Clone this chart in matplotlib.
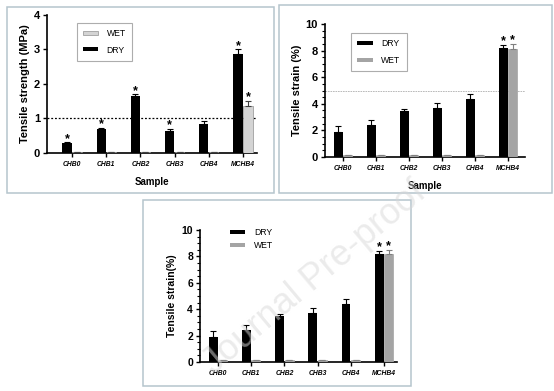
import matplotlib
matplotlib.use("Agg")
import matplotlib.pyplot as plt
from matplotlib.patches import Rectangle, Patch
import numpy as np

plt.rcParams['font.family'] = ['Liberation Sans', 'DejaVu Sans']

W, H = 554, 391

samples = ['CHB0', 'CHB1', 'CHB2', 'CHB3', 'CHB4', 'MCHB4']

# tensile strength (MPa)
strength_dry = [0.28, 0.69, 1.65, 0.63, 0.83, 2.86]
strength_dry_err = [0.03, 0.04, 0.05, 0.07, 0.10, 0.14]
strength_wet = [0.03, 0.03, 0.03, 0.03, 0.03, 1.36]
strength_wet_err = [0, 0, 0, 0, 0, 0.15]
strength_dry_star = [1, 1, 1, 1, 0, 1]
strength_wet_star = [0, 0, 0, 0, 0, 1]

# tensile strain (%)
strain_dry = [1.9, 2.43, 3.46, 3.68, 4.36, 8.2]
strain_dry_err = [0.46, 0.38, 0.15, 0.38, 0.41, 0.2]
strain_wet = [0.12, 0.12, 0.12, 0.12, 0.12, 8.15]
strain_wet_err = [0, 0, 0, 0, 0, 0.35]
strain_dry_star = [0, 0, 0, 0, 0, 1]
strain_wet_star = [0, 0, 0, 0, 0, 1]

fig = plt.figure(figsize=(W / 100, H / 100), dpi=100)


def px_axes(left, top, right, bottom):
    return fig.add_axes([left / W, 1 - bottom / H, (right - left) / W, (bottom - top) / H])


def panel_box(x0, y0, x1, y1):
    fig.add_artist(Rectangle((x0 / W, 1 - y1 / H), (x1 - x0) / W, (y1 - y0) / H,
                             transform=fig.transFigure, fill=False,
                             edgecolor='#b5c5cd', lw=1.1))


def draw_bars(ax, dry, dry_err, wet, wet_err, dry_star, wet_star,
              wet_color, wet_edge, wet_err_color, star_pad):
    x = np.arange(len(samples))
    bw = 0.27
    off = 0.145
    ax.bar(x - off, dry, bw, color='black', zorder=3)
    ax.bar(x + off, wet, bw, color=wet_color, edgecolor=wet_edge, lw=0.5, zorder=3)
    ax.errorbar(x - off, dry, yerr=[np.zeros(len(dry)), dry_err], fmt='none',
                ecolor='black', elinewidth=0.8, capsize=2, capthick=0.8, zorder=4)
    ax.errorbar(x + off, wet, yerr=[np.zeros(len(wet)), wet_err], fmt='none',
                ecolor=wet_err_color, elinewidth=0.8, capsize=2, capthick=0.8, zorder=4)
    for i in range(len(samples)):
        if dry_star[i]:
            ax.text(x[i] - off, dry[i] + dry_err[i] + star_pad, '*', ha='center', va='center',
                    fontsize=9, fontweight='bold')
        if wet_star[i]:
            ax.text(x[i] + off, wet[i] + wet_err[i] + star_pad, '*', ha='center', va='center',
                    fontsize=9, fontweight='bold')
    ax.set_xticks(x)
    ax.set_xticklabels(samples, fontsize=4.9, fontweight='bold', fontstyle='italic')
    for s in ['top', 'right']:
        ax.spines[s].set_visible(False)
    for s in ['left', 'bottom']:
        ax.spines[s].set_linewidth(1.2)
    ax.tick_params(axis='both', direction='out', length=3, width=1, pad=2)
    ax.tick_params(axis='x', pad=3)
    ax.set_facecolor('none')


# panel borders
panel_box(6.7, 6.7, 274, 192.7)
panel_box(279, 5, 552, 193)
panel_box(143, 199.5, 411, 386)

# --- top left: tensile strength ---
ax1 = px_axes(47, 15, 257, 153)
draw_bars(ax1, strength_dry, strength_dry_err, strength_wet, strength_wet_err,
          strength_dry_star, strength_wet_star, '#d4d4d4', '#909090', '#404040', 0.1)
ax1.axhline(1, ls=(0, (1.5, 1.5)), color='black', lw=0.9, zorder=2)
ax1.set_xlim(-0.73, 5.41)
ax1.set_ylim(0, 4)
ax1.set_yticks([0, 1, 2, 3, 4])
ax1.set_yticklabels(['0', '1', '2', '3', '4'], fontsize=8, fontweight='bold')
ax1.set_ylabel('Tensile strength (MPa)', fontsize=8, fontweight='bold', labelpad=3)
ax1.set_xlabel('Sample', fontsize=7, fontweight='bold', labelpad=6)
h1 = [Patch(facecolor='#d4d4d4', edgecolor='#909090', lw=0.5), Patch(facecolor='black')]
ax1.legend(h1, ['WET', 'DRY'], loc='upper left', bbox_to_anchor=(0.12, 0.975),
           fontsize=6.2, frameon=True, fancybox=False, edgecolor='#999999',
           handlelength=1.8, handleheight=0.35, borderpad=0.7, labelspacing=0.9,
           handletextpad=1.0).get_frame().set_linewidth(0.8)

# --- top right: tensile strain ---
ax2 = px_axes(325, 24, 525, 157)
draw_bars(ax2, strain_dry, strain_dry_err, strain_wet, strain_wet_err,
          strain_dry_star, strain_wet_star, '#a4a4a4', '#a4a4a4', '#808080', 0.3)
ax2.axhline(5, ls=(0, (2, 1)), color='#b0b0b0', lw=0.6, zorder=2)
ax2.set_xlim(-0.55, 5.52)
ax2.set_ylim(0, 10)
ax2.set_yticks([0, 2, 4, 6, 8, 10])
ax2.set_yticklabels(['0', '2', '4', '6', '8', '10'], fontsize=8, fontweight='bold')
ax2.set_yticks(np.arange(0, 10.01, 0.5), minor=True)
ax2.tick_params(axis='y', which='minor', length=2, width=0.8)
ax2.set_ylabel('Tensile strain (%)', fontsize=8, fontweight='bold', labelpad=3)
ax2.set_xlabel('Sample', fontsize=7, fontweight='bold', labelpad=6)
h2 = [Patch(facecolor='black'), Patch(facecolor='#a4a4a4')]
ax2.legend(h2, ['DRY', 'WET'], loc='upper left', bbox_to_anchor=(0.11, 0.965),
           fontsize=6.2, frameon=True, fancybox=False, edgecolor='#999999',
           handlelength=1.8, handleheight=0.35, borderpad=0.7, labelspacing=0.9,
           handletextpad=1.0).get_frame().set_linewidth(0.8)

# --- bottom: tensile strain ---
ax3 = px_axes(200, 230, 397, 362)
draw_bars(ax3, strain_dry, strain_dry_err, strain_wet, strain_wet_err,
          strain_dry_star, strain_wet_star, '#a4a4a4', '#a4a4a4', '#808080', 0.3)
ax3.set_xlim(-0.54, 5.39)
ax3.set_ylim(0, 10)
ax3.set_yticks([0, 2, 4, 6, 8, 10])
ax3.set_yticklabels(['0', '2', '4', '6', '8', '10'], fontsize=7.5, fontweight='bold')
ax3.set_yticks(np.arange(0, 10.01, 0.5), minor=True)
ax3.tick_params(axis='y', which='minor', length=2, width=0.8)
ax3.set_ylabel('Tensile strain(%)', fontsize=7.5, fontweight='bold', labelpad=3)
h3 = [Patch(facecolor='black'), Patch(facecolor='#a4a4a4')]
ax3.legend(h3, ['DRY', 'WET'], loc='upper left', bbox_to_anchor=(0.13, 1.05),
           fontsize=6.2, frameon=False, handlelength=1.8, handleheight=0.35,
           borderpad=0, labelspacing=0.5, handletextpad=1.0)

# faint watermark
fig.text(315 / W, 1 - 278 / H, 'Journal Pre-proof', fontsize=26, rotation=40,
         ha='center', va='center', color='#d8d8d8', alpha=0.5, zorder=10)

fig.savefig('out.png', dpi=100)
